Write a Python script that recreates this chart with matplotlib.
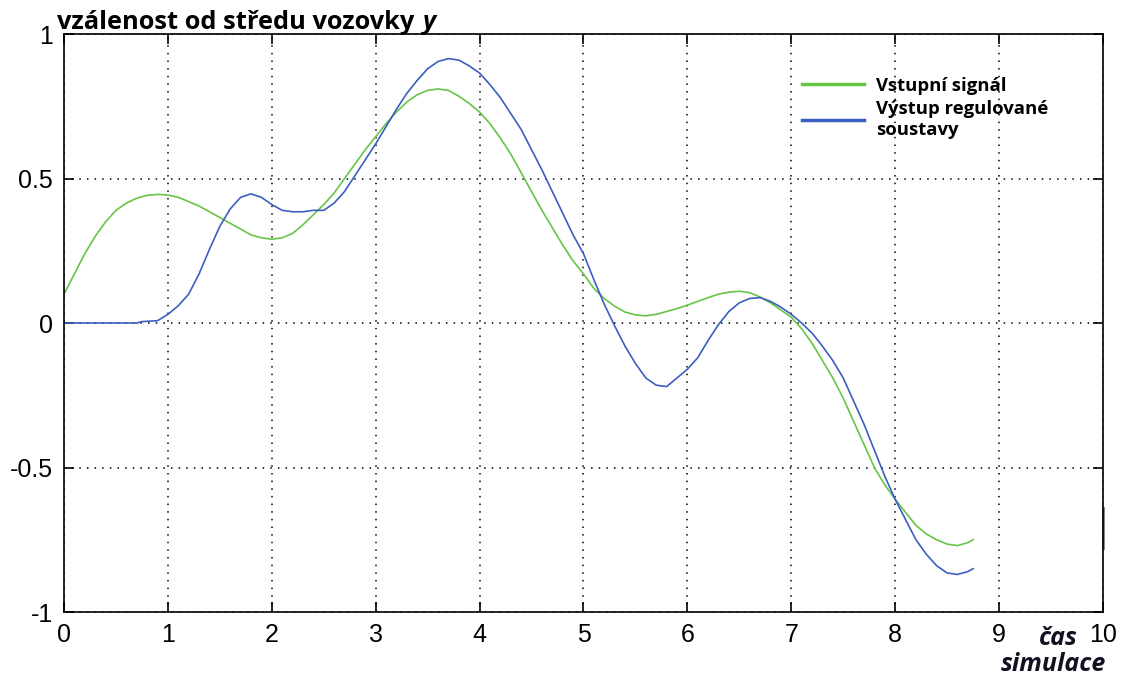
import matplotlib
matplotlib.use("Agg")
import matplotlib.pyplot as plt

# vstupní signál (green)
t_in = [0.0, 0.1, 0.2, 0.3, 0.4, 0.5, 0.6, 0.7, 0.8, 0.9,
        1.0, 1.1, 1.2, 1.3, 1.4, 1.5, 1.6, 1.7, 1.8, 1.9,
        2.0, 2.1, 2.2, 2.3, 2.4, 2.5, 2.6, 2.7, 2.8, 2.9,
        3.0, 3.1, 3.2, 3.3, 3.4, 3.5, 3.6, 3.7, 3.8, 3.9,
        4.0, 4.1, 4.2, 4.3, 4.4, 4.5, 4.6, 4.7, 4.8, 4.9,
        5.0, 5.1, 5.2, 5.3, 5.4, 5.5, 5.6, 5.7, 5.8, 5.9,
        6.0, 6.1, 6.2, 6.3, 6.4, 6.5, 6.6, 6.7, 6.8, 6.9,
        7.0, 7.1, 7.2, 7.3, 7.4, 7.5, 7.6, 7.7, 7.8, 7.9,
        8.0, 8.1, 8.2, 8.3, 8.4, 8.5, 8.6, 8.7, 8.75]
y_in = [0.10, 0.17, 0.24, 0.30, 0.35, 0.39, 0.415, 0.432, 0.442, 0.445,
        0.443, 0.435, 0.42, 0.405, 0.385, 0.365, 0.345, 0.325, 0.305, 0.295,
        0.29, 0.295, 0.31, 0.34, 0.375, 0.41, 0.45, 0.50, 0.55, 0.60,
        0.645, 0.69, 0.73, 0.765, 0.79, 0.805, 0.81, 0.805, 0.785, 0.76,
        0.73, 0.69, 0.64, 0.585, 0.52, 0.455, 0.39, 0.33, 0.27, 0.215,
        0.17, 0.12, 0.085, 0.058, 0.038, 0.028, 0.025, 0.03, 0.04, 0.05,
        0.062, 0.075, 0.088, 0.10, 0.107, 0.11, 0.105, 0.09, 0.07, 0.045,
        0.02, -0.02, -0.07, -0.13, -0.19, -0.26, -0.34, -0.42, -0.50, -0.56,
        -0.61, -0.655, -0.70, -0.73, -0.75, -0.765, -0.77, -0.76, -0.75]

# výstup regulované soustavy (blue)
t_out = [0.0, 0.7, 0.75, 0.9,
         1.0, 1.1, 1.2, 1.3, 1.4, 1.5, 1.6, 1.7, 1.8, 1.9,
         2.0, 2.1, 2.2, 2.3, 2.4, 2.5, 2.6, 2.7, 2.8, 2.9,
         3.0, 3.1, 3.2, 3.3, 3.4, 3.5, 3.6, 3.7, 3.8, 3.9,
         4.0, 4.1, 4.2, 4.3, 4.4, 4.5, 4.6, 4.7, 4.8, 4.9,
         5.0, 5.1, 5.2, 5.3, 5.4, 5.5, 5.6, 5.7, 5.8, 5.9,
         6.0, 6.1, 6.2, 6.3, 6.4, 6.5, 6.6, 6.7, 6.8, 6.9,
         7.0, 7.1, 7.2, 7.3, 7.4, 7.5, 7.6, 7.7, 7.8, 7.9,
         8.0, 8.1, 8.2, 8.3, 8.4, 8.5, 8.6, 8.7, 8.75]
y_out = [0.0, 0.0, 0.005, 0.008,
         0.03, 0.06, 0.10, 0.17, 0.255, 0.335, 0.395, 0.435, 0.447, 0.435,
         0.41, 0.39, 0.385, 0.385, 0.39, 0.39, 0.415, 0.455, 0.51, 0.565,
         0.62, 0.68, 0.74, 0.795, 0.84, 0.88, 0.905, 0.915, 0.91, 0.89,
         0.865, 0.825, 0.78, 0.725, 0.67, 0.60, 0.53, 0.455, 0.38, 0.305,
         0.24, 0.15, 0.065, -0.01, -0.08, -0.14, -0.19, -0.215, -0.22, -0.19,
         -0.16, -0.12, -0.06, -0.005, 0.04, 0.07, 0.085, 0.088, 0.075, 0.055,
         0.03, 0.0, -0.035, -0.08, -0.13, -0.19, -0.27, -0.35, -0.44, -0.53,
         -0.61, -0.68, -0.75, -0.80, -0.84, -0.865, -0.87, -0.86, -0.85]

x_ticks = [0, 1, 2, 3, 4, 5, 6, 7, 8, 9, 10]
y_ticks = [-1, -0.5, 0, 0.5, 1]
y_ticklabels = ["-1", "-0.5", "0", "0.5", "1"]

green = "#66c547"
blue = "#3b5fc0"
bold_font = "Open Sans"

fig = plt.figure(figsize=(11.25, 6.81), dpi=100)
ax = fig.add_axes([0.0569, 0.1013, 0.9235, 0.8487])

ax.plot(t_in, y_in, color=green, lw=1.2)
ax.plot(t_out, y_out, color=blue, lw=1.2)

ax.set_xlim(0, 10)
ax.set_ylim(-1, 1)
ax.set_xticks(x_ticks)
ax.set_yticks(y_ticks)
ax.set_yticklabels(y_ticklabels)
ax.tick_params(direction="in", length=7, width=1.2, top=True, right=True,
               labelsize=18, pad=8)
for lab in ax.get_xticklabels() + ax.get_yticklabels():
    lab.set_family("Liberation Sans")
for s in ax.spines.values():
    s.set_linewidth(1.2)
ax.grid(True, linestyle=(0, (1, 4)), color="black", lw=1.1)

leg_lines = [plt.Line2D([], [], color=green, lw=2.5),
             plt.Line2D([], [], color=blue, lw=2.5)]
ax.legend(leg_lines, ["Vstupní signál", "Výstup regulované\nsoustavy"],
          loc="upper left", bbox_to_anchor=(0.694, 0.955), frameon=False,
          handlelength=3.4, handletextpad=0.65, labelspacing=0.3,
          prop={"family": bold_font, "weight": "bold", "size": 13.3})

title = fig.text(0.051, 0.958, "vzálenost od středu vozovky", family=bold_font,
                 weight="bold", size=18.3, ha="left", va="baseline")
fig.canvas.draw()
bb = title.get_window_extent()
fig.text(bb.x1 / fig.bbox.width + 0.007, 0.958, "y", family=bold_font,
         weight="bold", style="italic", size=18.3, ha="left", va="baseline")

fig.text(0.958, 0.062, "čas", family=bold_font, weight="bold", style="italic",
         size=18, ha="right", va="center", color="#111122")
fig.text(0.983, 0.024, "simulace", family=bold_font, weight="bold",
         style="italic", size=18, ha="right", va="center", color="#111122")

# small dark mark on the right edge
ax.plot([1.0, 1.0], [0.11, 0.18], transform=ax.transAxes, color="#777777",
        lw=2, clip_on=False)

fig.savefig("out.png", dpi=100)
